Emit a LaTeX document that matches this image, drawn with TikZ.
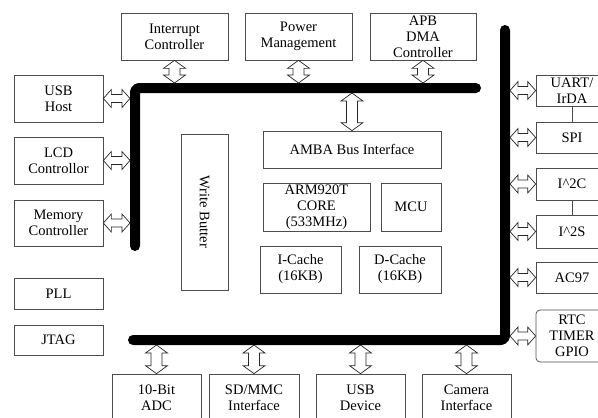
\documentclass[tikz,border=0pt]{standalone}
\usepackage{fontspec}
\setmainfont{Liberation Serif}
\usepackage{tikz}
\usetikzlibrary{calc}

% hollow double-headed bus connector: from, to, head half-width, shaft half-width
\newcommand{\busarrow}[4]{%
  \draw[busarr] let \p1=(#1), \p2=(#2),
      \n1={atan2(\y2-\y1,\x2-\x1)}, \n2={veclen(\x2-\x1,\y2-\y1)} in
    [shift={(\p1)}, rotate=\n1]
    (0,0) -- (8,#3) -- (8,#4) -- (\n2-8,#4) -- (\n2-8,#3) -- (\n2,0)
    -- (\n2-8,-#3) -- (\n2-8,-#4) -- (8,-#4) -- (8,-#3) -- cycle;
}

\begin{document}
\begin{tikzpicture}[
    x=1pt, y=-1pt,
    blk/.style={
      rectangle, draw=black!70, line width=0.7pt, fill=white,
      align=center, inner sep=1pt,
      font=\fontsize{14.5}{16}\selectfont
    },
    bus/.style={line width=10pt, line cap=round, line join=round, rounded corners=4pt},
    busarr/.style={draw=black!85, line width=0.7pt, fill=white},
    link/.style={draw=black!70, line width=0.7pt}
  ]
  \useasboundingbox (0,0) rectangle (598,418);
  \clip (0,0) rectangle (598,418);

  %% ===== bus bars =====
  \draw[bus] (476,88) -- (135,88) -- (135,246);
  \draw[bus] (505,30) -- (505,340) -- (133,340);
  \coordinate (tbN) at (0,83);   % top bar, upper edge
  \coordinate (tbS) at (0,93);   % top bar, lower edge
  \coordinate (lbW) at (130,0);  % left bar, outer edge
  \coordinate (rbE) at (510,0);  % right bar, outer edge
  \coordinate (bbS) at (0,345);  % bottom bar, lower edge

  %% ===== top row =====
  \node[blk, minimum width=107, minimum height=47] (intc) at (174.5,36.5) {Interrupt\\Controller};
  \node[blk, minimum width=107, minimum height=47] (pwr)  at (298.5,36.5) {Power\\Management};
  \node[blk, minimum width=106, minimum height=47] (apb)  at (423,36.5)   {APB\\DMA\\Controller};

  %% ===== left column =====
  \node[blk, minimum width=89, minimum height=47] (usbh) at (58.5,98.5)  {USB\\Host};
  \node[blk, minimum width=89, minimum height=47] (lcd)  at (58.5,160.5) {LCD\\Controllor};
  \node[blk, minimum width=89, minimum height=46] (memc) at (58.5,223)   {Memory\\Controller};
  \node[blk, minimum width=89, minimum height=31] (pll)  at (58.5,293.5) {PLL};
  \node[blk, minimum width=89, minimum height=30] (jtag) at (58.5,340)   {JTAG};

  %% ===== right column =====
  \node[blk, minimum width=72, minimum height=31] (uart) at (572,90.5)  {UART/\\IrDA};
  \node[blk, minimum width=72, minimum height=31] (spi)  at (572,137.5) {SPI};
  \node[blk, minimum width=72, minimum height=32] (iic)  at (572,184)   {I\^{}2C};
  \node[blk, minimum width=72, minimum height=33] (iis)  at (572,231.5) {I\^{}2S};
  \node[blk, minimum width=72, minimum height=31] (ac97) at (572,277.5) {AC97};
  \node[blk, rounded corners=4pt, minimum width=72, minimum height=52]
    (rtc) at (572,336) {RTC\\TIMER\\GPIO};

  \draw[link] (uart) -- (spi);
  \draw[link] (iic) -- (iis);

  %% ===== bottom row =====
  \node[blk, minimum width=89, minimum height=47] (adc)   at (156.5,397.5) {10-Bit\\ADC};
  \node[blk, minimum width=90, minimum height=47] (sdmmc) at (254,397.5)   {SD/MMC\\Interface};
  \node[blk, minimum width=89, minimum height=47] (usbd)  at (360.5,397.5) {USB\\Device};
  \node[blk, minimum width=89, minimum height=47] (cam)   at (466.5,397.5) {Camera\\Interface};

  %% ===== core =====
  \node[blk, rotate=-90, minimum width=156, minimum height=47] (wbuf) at (204.5,212) {Write Butter};
  \node[blk, minimum width=178, minimum height=37] (amba) at (352,149.5) {AMBA Bus Interface};
  \node[blk, minimum width=107, minimum height=48] (arm)  at (316.5,207) {ARM920T\\CORE\\(533MHz)};
  \node[blk, minimum width=60, minimum height=48]  (mcu)  at (411,207)   {MCU};
  \node[blk, minimum width=81, minimum height=47]  (icache) at (300.5,269.5) {I-Cache\\(16KB)};
  \node[blk, minimum width=82, minimum height=47]  (dcache) at (400,269.5)   {D-Cache\\(16KB)};

  %% ===== bus connectors =====
  \busarrow{intc.south}{intc.south |- tbN}{11}{5.5}
  \busarrow{pwr.south}{pwr.south |- tbN}{11}{5.5}
  \busarrow{apb.south}{apb.south |- tbN}{11}{5.5}
  \busarrow{amba.north |- tbS}{amba.north}{11}{5.5}

  \busarrow{usbh.east}{usbh.east -| lbW}{9}{4}
  \busarrow{lcd.east}{lcd.east -| lbW}{9}{4}
  \busarrow{memc.east}{memc.east -| lbW}{9}{4}

  \busarrow{uart.west -| rbE}{uart.west}{9}{4}
  \busarrow{spi.west -| rbE}{spi.west}{9}{4}
  \busarrow{iic.west -| rbE}{iic.west}{9}{4}
  \busarrow{iis.west -| rbE}{iis.west}{9}{4}
  \busarrow{ac97.west -| rbE}{ac97.west}{9}{4}
  \busarrow{rtc.west -| rbE}{rtc.west}{9}{4}

  \busarrow{adc.north |- bbS}{adc.north}{11}{5.5}
  \busarrow{sdmmc.north |- bbS}{sdmmc.north}{11}{5.5}
  \busarrow{usbd.north |- bbS}{usbd.north}{11}{5.5}
  \busarrow{cam.north |- bbS}{cam.north}{11}{5.5}
\end{tikzpicture}
\end{document}
